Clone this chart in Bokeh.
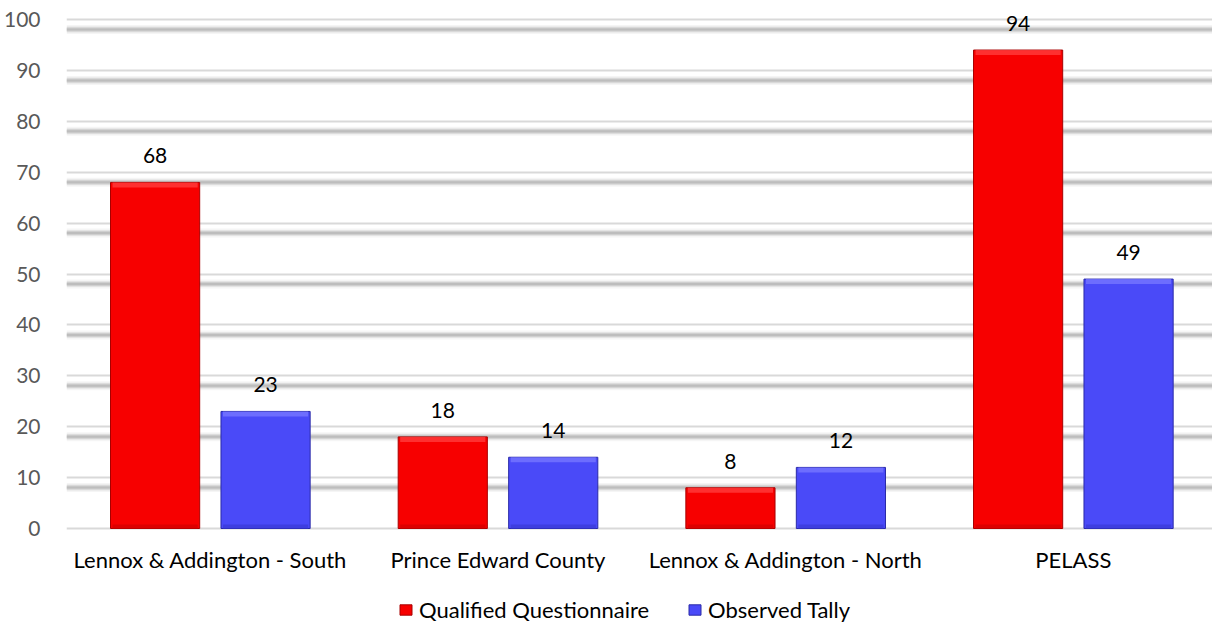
from bokeh.plotting import figure
from bokeh.models import (ColumnDataSource, Range1d, FixedTicker, LabelSet,
                          Legend, LegendItem)
from bokeh.core.properties import value
from bokeh.transform import dodge
from bokeh.embed import file_html
from bokeh.resources import INLINE

# --- data -------------------------------------------------------------
categories = ["Lennox & Addington - South", "Prince Edward County",
              "Lennox & Addington - North", "PELASS"]
qualified = [68, 18, 8, 94]
observed = [23, 14, 12, 49]
y_ticks = [0, 10, 20, 30, 40, 50, 60, 70, 80, 90, 100]

series_names = ["Qualified Questionnaire", "Observed Tally"]

FONT = "Lato"
FS = "21px"
FS_CAT = "22px"

RED, RED_EDGE, RED_HI, RED_LO = "#f70000", "#a80000", "#ff3c3c", "#d40000"
BLUE, BLUE_EDGE, BLUE_HI, BLUE_LO = "#4a4af8", "#2a2aa8", "#7676ff", "#3b3bd8"

# --- layout constants (pixels) -----------------------------------------
W, H = 1212, 625
LEFT = 64
Y100_PX = 19                        # screen row of the value 100
ZERO_PX = 528                       # screen row of the value 0
PX_PER_UNIT = (ZERO_PX - Y100_PX) / 100.0
Y_START = -(H - ZERO_PX) / PX_PER_UNIT   # room below zero for labels + legend
Y_END = 100 + Y100_PX / PX_PER_UNIT      # room above 100 for the top label
X_END = (W - LEFT) / 288.17              # one category slot = 288 px

centers = [i + 0.5 for i in range(len(categories))]
src = ColumnDataSource(dict(
    x=centers,
    zero=[0] * len(categories),
    cat=categories,
    qualified=qualified,
    observed=observed,
    q_txt=[str(v) for v in qualified],
    o_txt=[str(v) for v in observed],
    q_hi=[v - 5 / PX_PER_UNIT for v in qualified],
    o_hi=[v - 5 / PX_PER_UNIT for v in observed],
    lo=[4 / PX_PER_UNIT] * len(categories),
))

p = figure(width=W, height=H, output_backend="svg", toolbar_location=None,
           x_range=Range1d(0, X_END), y_range=Range1d(Y_START, Y_END),
           min_border_left=LEFT, min_border_right=0, min_border_top=0,
           min_border_bottom=0)
p.outline_line_color = None
p.background_fill_color = "white"
p.border_fill_color = "white"
p.xaxis.visible = False

# horizontal grid: thin line plus a soft grey shadow slightly below it
p.xgrid.grid_line_color = None
p.ygrid.ticker = FixedTicker(ticks=y_ticks)
p.ygrid.grid_line_color = "#d9d9d9"
p.ygrid.grid_line_width = 2

shadow_y = [t - 10 / PX_PER_UNIT for t in y_ticks if t > 0]
xs = [[0, X_END] for _ in shadow_y]
ys = [[y, y] for y in shadow_y]
for w, a in [(9, 0.10), (6, 0.18), (4, 0.28), (2, 0.35)]:
    p.multi_line(xs=xs, ys=ys, line_color="#9a9a9a", line_width=w, line_alpha=a)

# bars with a light bevel along the top and a darker band at the foot
bar_w = 0.31
inner_w = bar_w - 4 / 288.17
off = 0.192
series = [("qualified", "q_hi", -off, RED, RED_EDGE, RED_HI, RED_LO),
          ("observed", "o_hi", off, BLUE, BLUE_EDGE, BLUE_HI, BLUE_LO)]
bar_renderers = []
for col, hi, dx, fill, edge, light, dark in series:
    xd = dodge("x", dx, range=p.x_range)
    r = p.vbar(x=xd, top=col, width=bar_w, source=src,
               fill_color=fill, line_color=edge, line_width=1)
    bar_renderers.append(r)
    p.vbar(x=xd, top=col, bottom=hi, width=inner_w, source=src,
           fill_color=light, fill_alpha=0.8, line_color=None)
    p.vbar(x=xd, top="lo", bottom="zero", width=inner_w, source=src,
           fill_color=dark, fill_alpha=0.8, line_color=None)

# value labels above bars
for col, txt, dx in [("qualified", "q_txt", -off), ("observed", "o_txt", off)]:
    p.add_layout(LabelSet(x=dodge("x", dx, range=p.x_range), y=col, text=txt,
                          source=src, text_align="center",
                          text_baseline="alphabetic", y_offset=19,
                          text_font=value(FONT), text_font_size=FS,
                          text_color="#000000"))

# category names under each group
p.add_layout(LabelSet(x="x", y="zero", text="cat", source=src,
                      text_align="center", text_baseline="alphabetic",
                      y_offset=-39, text_font=value(FONT),
                      text_font_size=FS_CAT, text_color="#000000"))

# value axis
p.yaxis.ticker = FixedTicker(ticks=y_ticks)
p.yaxis.axis_line_color = None
p.yaxis.major_tick_line_color = None
p.yaxis.minor_tick_line_color = None
p.yaxis.major_label_text_font = FONT
p.yaxis.major_label_text_font_size = FS
p.yaxis.major_label_text_color = "#595959"
p.yaxis.major_label_standoff = 20

# legend along the bottom
legend = Legend(items=[LegendItem(label=series_names[0], renderers=[bar_renderers[0]]),
                       LegendItem(label=series_names[1], renderers=[bar_renderers[1]])],
                orientation="horizontal", location=(332, 2),
                glyph_width=15, glyph_height=13, label_standoff=6, spacing=38,
                padding=0, margin=0, border_line_alpha=0,
                background_fill_alpha=0, label_text_font=FONT,
                label_text_font_size=FS_CAT, label_text_color="#000000")
p.add_layout(legend)

open("out.html", "w").write(file_html(p, INLINE))
